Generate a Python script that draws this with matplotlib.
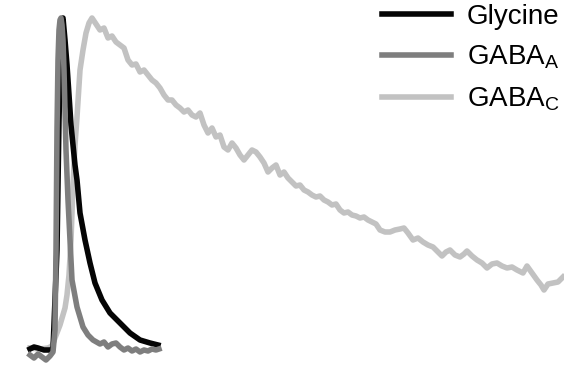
import matplotlib
matplotlib.use("Agg")
import matplotlib.pyplot as plt

plt.rcParams['font.family'] = ['Liberation Sans', 'DejaVu Sans']
plt.rcParams['mathtext.fontset'] = 'custom'
plt.rcParams['mathtext.rm'] = 'Liberation Sans'

# time (a.u.) and response amplitude (a.u.)
t_gly = [30, 34, 38, 44, 50, 53, 57, 59, 61, 62, 63, 65, 67, 69, 71, 73, 75, 77, 80, 85,
         90, 95, 102, 110, 120, 130, 140, 150, 158]
gly = [1, 3, 2, 0, 0, 1, 100, 230, 310, 330, 332, 310, 285, 255, 225, 205, 185, 170, 137, 110,
       87, 67, 50, 37, 27, 17, 10, 7, 5]

t_gabaa = [30, 34, 38, 42, 46, 50, 53, 55, 56, 57, 58, 59, 60, 61, 62, 63, 64, 65, 66, 68,
           70, 72, 77, 83, 88, 93, 100, 104, 108, 112, 116, 120, 124, 128, 132, 136, 140,
           144, 148, 152, 156, 159]
gabaa = [-5, -8, -4, -7, -10, -6, -2, 20, 100, 220, 290, 320, 330, 332, 325, 310, 280, 240, 200, 150,
         110, 70, 43, 23, 15, 10, 6, 8, 3, 6, 7, 3, 0, 2, -1, 1, -2,
         0, -1, 1, 0, 1]

t_gabac = [30, 40, 48, 52, 55, 60, 65, 67, 69, 71,
           73, 75, 77, 80, 83, 86, 89, 92, 96, 100,
           104, 108, 112, 116, 120, 124, 128, 132, 136, 140,
           144, 148, 152, 156, 160, 164, 168, 172, 176, 180,
           184, 188, 192, 196, 200, 204, 208, 212, 216, 220,
           224, 228, 232, 236, 240, 244, 248, 252, 256, 260,
           264, 268, 272, 276, 280, 284, 288, 292, 296, 300,
           304, 308, 312, 316, 320, 324, 328, 332, 336, 340,
           344, 348, 352, 356, 360, 364, 368, 372, 376, 380,
           385, 390, 395, 400, 404, 408, 413, 418, 423, 428,
           433, 438, 442, 446, 450, 455, 460, 464, 467, 472,
           477, 482, 487, 492, 497, 502, 507, 512, 517, 523,
           527, 532, 537, 541, 544, 548, 553, 558, 563]
gabac = [2, 1, 2, 4, 12, 25, 42, 55, 75, 110,
         165, 205, 233, 280, 300, 317, 327, 332, 326, 320,
         322, 312, 314, 308, 305, 302, 290, 285, 286, 278,
         280, 275, 270, 267, 262, 255, 250, 250, 245, 242,
         238, 240, 235, 233, 237, 225, 217, 222, 213, 215,
         203, 200, 207, 202, 195, 190, 195, 200, 198, 193,
         187, 178, 182, 185, 175, 178, 172, 168, 164, 165,
         160, 158, 155, 153, 154, 150, 148, 145, 146, 140,
         137, 138, 135, 134, 132, 133, 130, 128, 126, 120,
         118, 118, 120, 121, 122, 117, 110, 112, 108, 105,
         103, 98, 94, 98, 100, 95, 93, 96, 99, 94,
         90, 87, 82, 86, 87, 84, 82, 83, 80, 77,
         84, 77, 70, 65, 60, 66, 67, 68, 73]

fig = plt.figure(figsize=(5.64, 3.73), dpi=100)
ax = fig.add_axes([0, 0, 1, 1])

lw = 4.0
l_c, = ax.plot(t_gabac, gabac, color='#c2c2c2', lw=lw, solid_joinstyle='round')
l_g, = ax.plot(t_gly, gly, color='#050505', lw=lw, solid_joinstyle='round')
l_a, = ax.plot(t_gabaa, gabaa, color='#7e7e7e', lw=lw, solid_joinstyle='round')

ax.set_xlim(0, 564)
ax.set_ylim(-23, 350)
ax.axis('off')

ax.legend([l_g, l_a, l_c],
          ['Glycine', r'GABA$_\mathregular{A}$', r'GABA$_\mathregular{C}$'],
          loc='upper left', bbox_to_anchor=(382 / 564, 0.99),
          frameon=False, fontsize=20, handlelength=2.5, handletextpad=0.55,
          labelspacing=0.5, borderpad=0, borderaxespad=0)

fig.savefig('out.png', dpi=100)
